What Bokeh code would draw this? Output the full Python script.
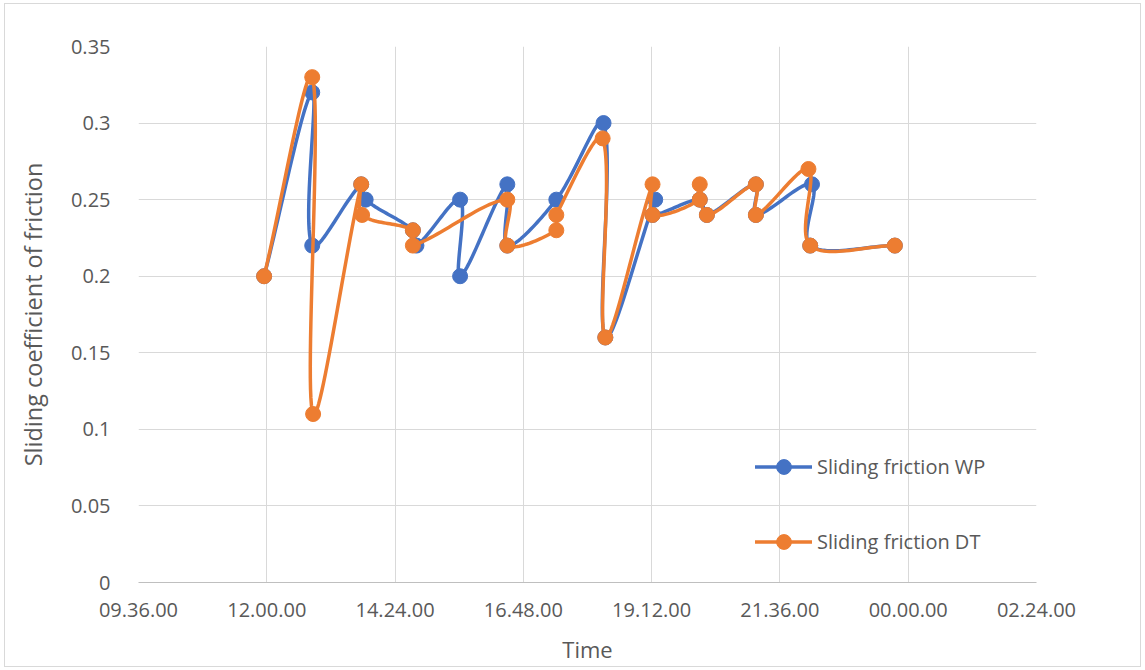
import numpy as np
from bokeh.plotting import figure
from bokeh.models import FixedTicker, Legend, LegendItem, Range1d, InlineStyleSheet
from bokeh.embed import file_html
from bokeh.resources import INLINE

# Sliding friction readings over the day (clock time, coefficient)
wp_time = ["11:57", "12:51", "12:51", "13:46", "13:51", "14:44", "14:48", "15:37", "15:37",
           "16:30", "16:30", "17:25", "18:18", "18:20", "19:16", "19:13", "20:06", "20:14",
           "21:09", "21:09", "22:12", "22:10", "23:45"]
wp_value = [0.20, 0.32, 0.22, 0.26, 0.25, 0.23, 0.22, 0.25, 0.20,
            0.26, 0.22, 0.25, 0.30, 0.16, 0.25, 0.24, 0.25, 0.24,
            0.26, 0.24, 0.26, 0.22, 0.22]

dt_time = ["11:57", "12:51", "12:52", "13:46", "13:47", "14:44", "14:44", "16:30", "16:30",
           "17:25", "17:25", "18:17", "18:20", "19:13", "19:13", "20:06", "20:06", "20:14",
           "21:09", "21:09", "22:08", "22:10", "23:45"]
dt_value = [0.20, 0.33, 0.11, 0.26, 0.24, 0.23, 0.22, 0.25, 0.22,
            0.23, 0.24, 0.29, 0.16, 0.26, 0.24, 0.25, 0.26, 0.24,
            0.26, 0.24, 0.27, 0.22, 0.22]

# Axis ticks: minutes since midnight, every 2 h 24 min
x_ticks = [576, 720, 864, 1008, 1152, 1296, 1440, 1584]
x_tick_labels = ["09.36.00", "12.00.00", "14.24.00", "16.48.00",
                 "19.12.00", "21.36.00", "00.00.00", "02.24.00"]
y_ticks = [0, 0.05, 0.1, 0.15, 0.2, 0.25, 0.3, 0.35]
y_tick_labels = ["0", "0.05", "0.1", "0.15", "0.2", "0.25", "0.3", "0.35"]

BLUE = "#4472C4"
ORANGE = "#ED7D31"
TEXT = "#595959"
GRID = "#D9D9D9"
FONT = "Open Sans"

FRAME_W, FRAME_H = 898, 536
X0, X1 = 576, 1584
Y0, Y1 = 0.0, 0.35


def to_minutes(labels):
    out = []
    for s in labels:
        h, m = s.split(":")
        out.append(int(h) * 60 + int(m))
    return np.array(out, dtype=float)


def smooth(x, y, steps=28):
    """Smoothed Bezier path through the points in data order; tangent handles
    are scaled by the neighbouring segment lengths (measured on screen)."""
    x = np.asarray(x, dtype=float)
    y = np.asarray(y, dtype=float)
    sx = FRAME_W / (X1 - X0)
    sy = FRAME_H / (Y1 - Y0)
    n = len(x)

    def dist(i, j):
        return np.hypot((x[j] - x[i]) * sx, (y[j] - y[i]) * sy)

    def handle(i):
        # tangent direction and handle factors toward previous / next point
        ip, inx = max(i - 1, 0), min(i + 1, n - 1)
        tx, ty = x[inx] - x[ip], y[inx] - y[ip]
        d_prev, d_next = dist(ip, i), dist(i, inx)
        tot = d_prev + d_next
        if tot == 0:
            return 0.0, 0.0, 0.0, 0.0
        f_next = d_next / tot / 3
        f_prev = d_prev / tot / 3
        return tx * f_next, ty * f_next, tx * f_prev, ty * f_prev

    hs = [handle(i) for i in range(n)]
    px, py = [], []
    t = np.linspace(0, 1, steps)
    for i in range(n - 1):
        c1x = x[i] + hs[i][0]
        c1y = y[i] + hs[i][1]
        c2x = x[i + 1] - hs[i + 1][2]
        c2y = y[i + 1] - hs[i + 1][3]
        a = (1 - t) ** 3
        b = 3 * (1 - t) ** 2 * t
        c = 3 * (1 - t) * t ** 2
        d = t ** 3
        px.extend(a * x[i] + b * c1x + c * c2x + d * x[i + 1])
        py.extend(a * y[i] + b * c1y + c * c2y + d * y[i + 1])
    return px, py


p = figure(width=1145, height=670, output_backend="svg", toolbar_location=None,
           x_range=Range1d(X0, X1), y_range=Range1d(Y0, Y1),
           min_border_left=138, min_border_right=109, min_border_top=46, min_border_bottom=88)
p.outline_line_color = None
p.background_fill_color = "white"
p.border_fill_color = "white"
# thin light frame around the whole chart
p.stylesheets = [InlineStyleSheet(css=(
    ":host::after { content: ''; position: absolute; left: 4px; top: 3px; "
    "width: 1135px; height: 662px; border: 1px solid #D9D9D9; "
    "pointer-events: none; z-index: 100; }"))]

# axes
p.xaxis.ticker = FixedTicker(ticks=x_ticks)
p.xaxis.major_label_overrides = dict(zip(x_ticks, x_tick_labels))
p.yaxis.ticker = FixedTicker(ticks=y_ticks)
p.yaxis.major_label_overrides = dict(zip(y_ticks, y_tick_labels))
p.xaxis.axis_label = "Time"
p.yaxis.axis_label = "Sliding coefficient of friction"

for ax in (p.xaxis, p.yaxis):
    ax.major_tick_line_color = None
    ax.minor_tick_line_color = None
    ax.major_label_text_color = TEXT
    ax.major_label_text_font = FONT
    ax.major_label_text_font_size = "20px"
    ax.axis_label_text_color = TEXT
    ax.axis_label_text_font = FONT
    ax.axis_label_text_font_size = "22px"
    ax.axis_label_text_font_style = "normal"

p.yaxis.axis_label_text_font_size = "23.5px"
p.xaxis.axis_line_color = "#BFBFBF"
p.yaxis.axis_line_color = None
p.xaxis.major_label_standoff = 14
p.yaxis.major_label_standoff = 22
p.xaxis.axis_label_standoff = 14
p.yaxis.axis_label_standoff = 19

p.xgrid.grid_line_color = GRID
p.ygrid.grid_line_color = GRID
p.xgrid.ticker = FixedTicker(ticks=x_ticks)
p.ygrid.ticker = FixedTicker(ticks=y_ticks)

items = []
for times, values, color, name in ((wp_time, wp_value, BLUE, "Sliding friction WP"),
                                   (dt_time, dt_value, ORANGE, "Sliding friction DT")):
    xm = to_minutes(times)
    sx, sy = smooth(xm, values)
    ln = p.line(sx, sy, line_color=color, line_width=3.5, line_join="round", line_cap="round")
    sc = p.scatter(xm, values, size=15, fill_color=color, line_color=color)
    items.append(LegendItem(label=name, renderers=[ln, sc]))

legend = Legend(items=items, location=(617, 22), padding=0, margin=0, spacing=38,
                glyph_width=57, glyph_height=37, label_height=37, label_standoff=5,
                label_text_font=FONT, label_text_font_size="20px", label_text_color=TEXT,
                background_fill_alpha=0, border_line_color=None)
p.add_layout(legend, "center")

open("out.html", "w").write(file_html(p, INLINE))
